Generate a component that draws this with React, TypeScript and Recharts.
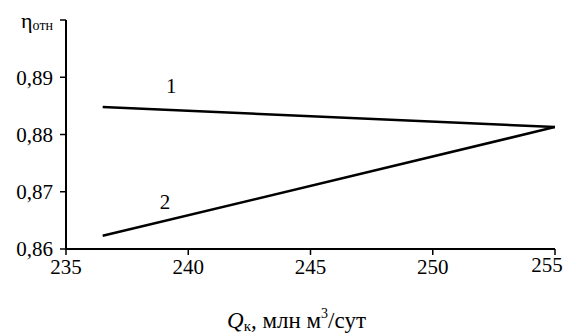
import React from "react";
import { LineChart, Line, XAxis, YAxis, ReferenceDot } from "recharts";

// curve 1 and curve 2
const curve1 = [
  { q: 236.5, eta: 0.8848 },
  { q: 255, eta: 0.8813 },
];
const curve2 = [
  { q: 236.5, eta: 0.8623 },
  { q: 255, eta: 0.8813 },
];
const xTicks = [235, 240, 245, 250, 255];
const yTicks = [0.86, 0.87, 0.88, 0.89, 0.9];
const curveLabels = [
  { name: "1", q: 239.3, eta: 0.8872 },
  { name: "2", q: 239.05, eta: 0.867 },
];

const FONT = "Liberation Serif, Times New Roman, serif";
const txt = (size: number) => ({ fontFamily: FONT, fontSize: size });

const YTick = (props: any) => {
  const { x, y, payload } = props;
  if (payload.value >= 0.899) {
    return (
      <text x={x} y={y + 8} textAnchor="end" style={txt(22)} fill="#000">
        <tspan style={txt(22)}>η</tspan>
        <tspan style={txt(14)} dy={2}>отн</tspan>
      </text>
    );
  }
  return (
    <text x={x} y={y} dy="0.355em" textAnchor="end" style={txt(21)} fill="#000">
      {payload.value.toFixed(2).replace(".", ",")}
    </text>
  );
};

const XTick = (props: any) => {
  const { x, y, payload } = props;
  // last label sits a little to the left so it stays inside the frame
  const last = payload.value === xTicks[xTicks.length - 1];
  return (
    <text x={last ? x - 8 : x} y={last ? y - 2 : y} dy="0.71em" textAnchor="middle" style={txt(21)} fill="#000">
      {payload.value}
    </text>
  );
};

const XTitle = (props: any) => {
  const { viewBox } = props;
  const cx = viewBox.x + viewBox.width / 2 - 14;
  const y = viewBox.y + 79;
  return (
    <text x={cx} y={y} textAnchor="middle" style={txt(23)} fill="#000">
      <tspan style={{ ...txt(23), fontStyle: "italic" }}>Q</tspan>
      <tspan style={txt(15)} dy={3}>к</tspan>
      <tspan style={txt(23)} dy={-3}>, млн м</tspan>
      <tspan style={txt(14)} dy={-10}>3</tspan>
      <tspan style={txt(23)} dy={10}>/сут</tspan>
    </text>
  );
};

const CurveName = (text: string) => (props: any) => {
  const { viewBox } = props;
  return (
    <text x={viewBox.x} y={viewBox.y} textAnchor="middle" style={txt(21)} fill="#000">
      {text}
    </text>
  );
};

export default function App() {
  return (
    <div style={{ position: "absolute", left: 0, top: 0, background: "#fff", fontFamily: FONT }}>
      <LineChart width={568} height={334} margin={{ top: 20, right: 13, bottom: 15, left: 0 }}>
        <XAxis
          type="number"
          dataKey="q"
          domain={[235, 255]}
          ticks={xTicks}
          allowDataOverflow
          height={70}
          tickSize={6}
          tickMargin={4}
          axisLine={{ stroke: "#000", strokeWidth: 2 }}
          tickLine={{ stroke: "#000", strokeWidth: 1.5 }}
          tick={<XTick />}
          label={<XTitle />}
        />
        <YAxis
          type="number"
          dataKey="eta"
          domain={[0.86, 0.9]}
          ticks={yTicks}
          allowDataOverflow
          width={66}
          tickSize={6}
          tickMargin={7}
          axisLine={{ stroke: "#000", strokeWidth: 2 }}
          tickLine={{ stroke: "#000", strokeWidth: 1.5 }}
          tick={<YTick />}
        />
        <Line data={curve1} dataKey="eta" type="linear" stroke="#000" strokeWidth={2.5} dot={false} isAnimationActive={false} />
        <Line data={curve2} dataKey="eta" type="linear" stroke="#000" strokeWidth={2.5} dot={false} isAnimationActive={false} />
        {curveLabels.map((c) => (
          <ReferenceDot
            key={c.name}
            x={c.q}
            y={c.eta}
            r={0}
            fill="none"
            stroke="none"
            ifOverflow="visible"
            label={CurveName(c.name)}
          />
        ))}
      </LineChart>
    </div>
  );
}
